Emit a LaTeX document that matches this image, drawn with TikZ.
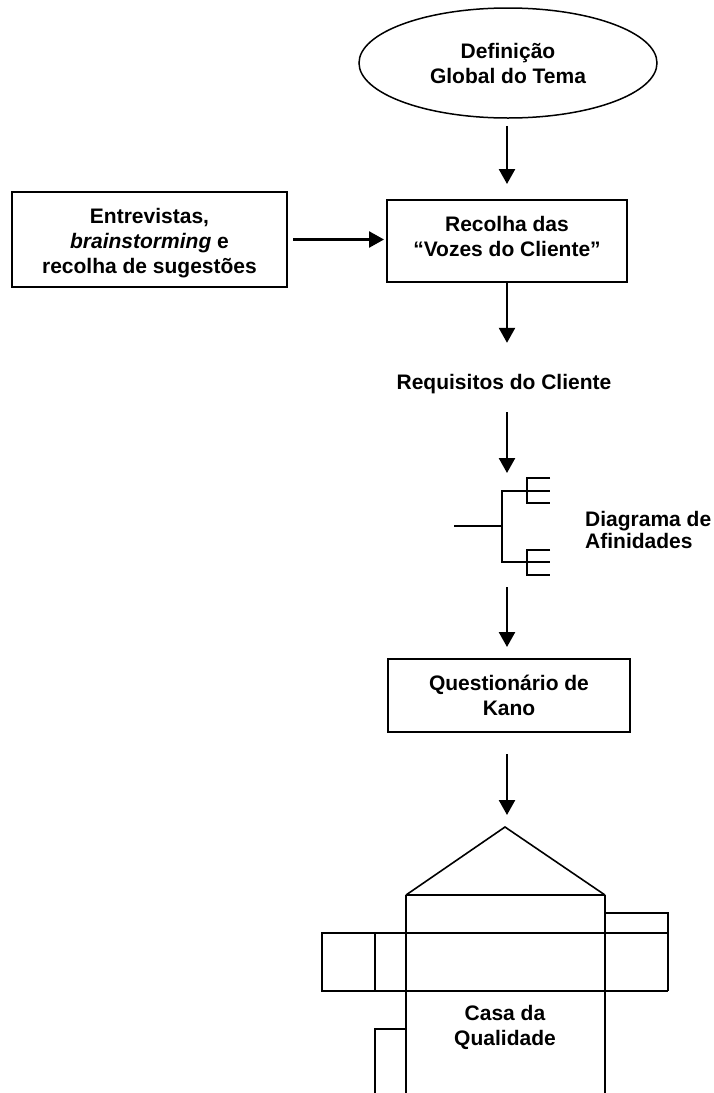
\documentclass[tikz,border=0pt]{standalone}
\usepackage{fontspec}
\setmainfont{Liberation Sans}
\usetikzlibrary{arrows.meta, shapes.geometric}

\begin{document}
\begin{tikzpicture}[x=1pt, y=-1pt,
  txt/.style={font=\fontsize{21}{25}\selectfont\bfseries, align=center},
  oval/.style={ellipse, draw, line width=1.5pt, minimum width=298pt,
               minimum height=110pt, inner sep=0pt, txt},
  box/.style={rectangle, draw, line width=2pt, inner sep=0pt, txt},
  arr/.style={line width=2.5pt, -{Triangle[width=16pt, length=15pt]}},
  twig/.style={line width=2.6pt},
  hroof/.style={line width=1.6pt},
  hline/.style={line width=2pt},
  hfine/.style={line width=1.3pt}
]
\path[use as bounding box] (0,0) rectangle (714,1093);

% flow nodes
\node[oval] (tema) at (508,63) {Definição\\Global do Tema};
\node[box, minimum width=240pt, minimum height=82pt,
      label={[txt, yshift=5pt]center:{Recolha das\\“Vozes do Cliente”}}]
  (recolha) at (507,241) {};
\node[box, minimum width=275pt, minimum height=95pt,
      label={[txt, yshift=-3.5pt]center:{Entrevistas,\\\textit{brainstorming} e\\recolha de sugestões}}]
  (entrev) at (149.5,239.5) {};
\node[txt, inner sep=0pt, text height=15pt, text depth=4pt] (req) at (504,384)
  {Requisitos do Cliente};
\node[txt, align=left, anchor=west, inner sep=0pt,
      font=\fontsize{21}{22}\selectfont\bfseries]
  (afin) at (585,530) {Diagrama de\\Afinidades};
\node[box, minimum width=242pt, minimum height=73pt] (kano) at (509,695.5)
  {Questionário de\\Kano};
\node[txt] (casa) at (505,1027) {Casa da\\Qualidade};

% free ends of connectors around the tree
\coordinate (treetop) at (507,473);
\coordinate (treeout) at (507,587);
\coordinate (apex) at (505,827);

% connectors
\draw[arr, shorten <=7pt, shorten >=15pt] (tema.south -| recolha.north) -- (recolha.north);
\draw[arr, shorten <=5pt, shorten >=2pt] (entrev.east) -- (entrev.east -| recolha.west);
\draw[arr, shorten >=31.5pt] (recolha.south) -- (recolha.south |- req.north);
\draw[arr, shorten <=18.5pt] (req.south -| treetop) -- (treetop);
\draw[arr, shorten >=11pt] (treeout) -- (treeout |- kano.north);
\draw[arr, shorten <=21pt, shorten >=12pt] (kano.south -| treeout) -- (treeout |- apex);

% affinity tree
\draw[twig] (454,526) -- (502,526);
\draw[twig] (527,491) -- (502,491) -- (502,562) -- (527,562);
\draw[twig] (550,478) -- (527,478) -- (527,503) -- (550,503);
\draw[twig] (527,491) -- (550,491);
\draw[twig] (550,550) -- (527,550) -- (527,575) -- (550,575);
\draw[twig] (527,562) -- (550,562);

% house of quality
\draw[hroof] (406,895) -- (apex) -- (605,895);
\draw[hline] (406,895) -- (605,895);
\draw[hline] (406,895) -- (406,1093);
\draw[hline] (605,895) -- (605,1093);
\draw[hfine] (375,933) -- (322,933) -- (322,991) -- (375,991);
\draw[hline] (375,933) -- (668,933);
\draw[hline] (375,991) -- (668,991);
\draw[hline] (375,933) -- (375,991);
\draw[hfine] (605,913) -- (668,913) -- (668,991);
\draw[hline] (406,1029) -- (375,1029) -- (375,1093);
\end{tikzpicture}
\end{document}
